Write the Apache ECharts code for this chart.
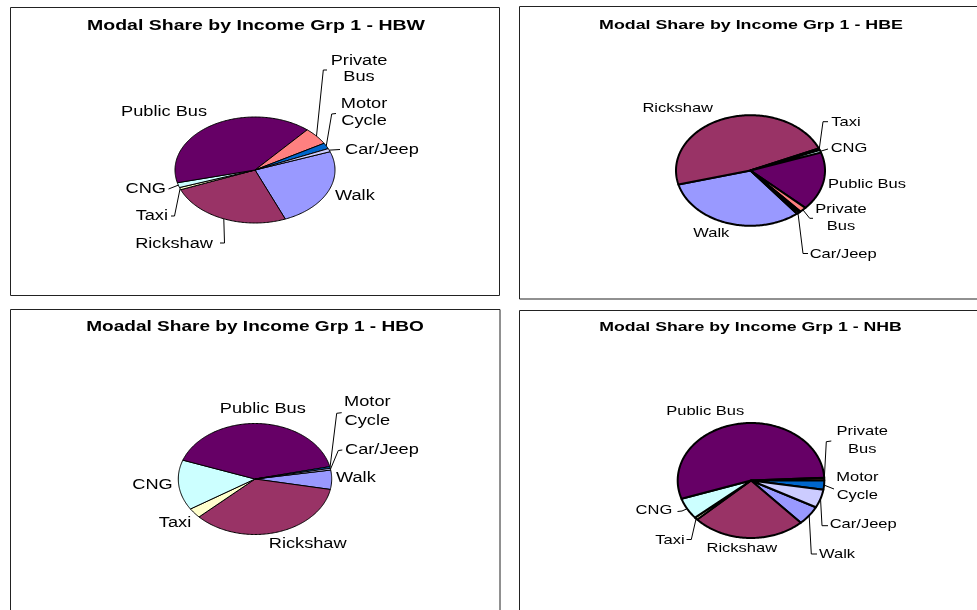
<!DOCTYPE html>
<html>
<head>
<meta charset="utf-8">
<script src="https://cdn.jsdelivr.net/npm/echarts@6/dist/echarts.min.js"></script>
<style>
  html, body { margin: 0; padding: 0; background: #fff; }
  #chart { width: 977px; height: 610px; }
</style>
</head>
<body>
<div id="chart"></div>
<script>
// Travel modes, in the order the slices run clockwise
const modes = ['Walk', 'Rickshaw', 'Taxi', 'CNG', 'Public Bus', 'Private Bus', 'Motor Cycle', 'Car/Jeep'];

// Modal share (%) of income group 1, one list per trip purpose
const shareHBW = [24.5, 25.2, 0.7, 1.5, 40.3, 5.3, 1.8, 1.0];
const shareHBE = [31.5, 47.3, 0.5, 0.8, 17.0, 1.5, 0.4, 0.5];
const shareHBO = [5.6, 35.0, 2.9, 14.6, 40.9, 0, 0.5, 0.5];
const shareNHB = [5.4, 24.9, 0.7, 6.0, 54.2, 0.7, 2.6, 5.1];

const chartTitles = [
  'Modal Share by Income Grp 1 - HBW',
  'Modal Share by Income Grp 1 - HBE',
  'Moadal Share by Income Grp 1 - HBO',
  'Modal Share by Income Grp 1 - NHB'
];

// Slice fill per mode
const modeColors = {
  'Walk': '#9999FF', 'Rickshaw': '#993366', 'Taxi': '#FFFFCC', 'CNG': '#CCFFFF',
  'Public Bus': '#660066', 'Private Bus': '#FF8080', 'Motor Cycle': '#0066CC', 'Car/Jeep': '#CCCCFF'
};

// Panel layout: frame, title, flattened pie and label placement
// leader: [elbowX, elbowY, endX, endY] - line runs from the slice rim via the elbow to the end
const panels = [
  {
    values: shareHBW, title: chartTitles[0],
    frame: [10.5, 7.5, 489, 288],
    titlePos: [256, 26], titleSize: 15, titleScale: 1.3,
    pie: { cx: 255, cy: 170, rx: 80, ry: 53, start: 69.8, lw: 1 },
    fontSize: 14, textScale: 1.3, lineH: 16.5,
    labels: {
      'Walk':        { x: 335, y: 196, align: 'left' },
      'Rickshaw':    { x: 213, y: 244, align: 'right', leader: [224.5, 243, 220, 243] },
      'Taxi':        { x: 168, y: 216, align: 'right', leader: [174.5, 216, 171, 216] },
      'CNG':         { x: 166, y: 189, align: 'right', leader: [168.5, 189, 168.5, 189] },
      'Public Bus':  { x: 164, y: 112, align: 'center' },
      'Private Bus': { x: 359, y: 69, align: 'center', text: 'Private\nBus', leader: [323.3, 70, 327, 70] },
      'Motor Cycle': { x: 364, y: 112.5, align: 'center', text: 'Motor\nCycle', leader: [331.7, 114, 336, 113.5] },
      'Car/Jeep':    { x: 345, y: 150, align: 'left', leader: [340, 149.5, 340, 149.5] }
    }
  },
  {
    values: shareHBE, title: chartTitles[1],
    frame: [519.5, 6.5, 470, 292.5],
    titlePos: [751, 25], titleSize: 13, titleScale: 1.37,
    pie: { cx: 750.5, cy: 170.5, rx: 74.5, ry: 55.3, start: 141.3, lw: 2 },
    fontSize: 13, textScale: 1.27, lineH: 17.5,
    labels: {
      'Rickshaw':    { x: 677.7, y: 108, align: 'center' },
      'Taxi':        { x: 831.3, y: 122, align: 'left', leader: [823, 121.7, 828, 121.7] },
      'CNG':         { x: 830.7, y: 148.5, align: 'left', leader: [828, 149, 828, 149] },
      'Public Bus':  { x: 828, y: 184, align: 'left' },
      'Private Bus': { x: 841, y: 218, align: 'center', text: 'Private\nBus', leader: [809.7, 218.3, 813, 218.3] },
      'Car/Jeep':    { x: 809.7, y: 254.3, align: 'left', leader: [803, 253.5, 808, 253.5] },
      'Walk':        { x: 711.3, y: 233.3, align: 'center' }
    }
  },
  {
    values: shareHBO, title: chartTitles[2],
    frame: [10.5, 309.5, 489.5, 320],
    titlePos: [255, 327], titleSize: 15, titleScale: 1.27,
    pie: { cx: 255, cy: 479, rx: 76.7, ry: 55.5, start: 80.7, lw: 1 },
    fontSize: 14, textScale: 1.3, lineH: 19,
    labels: {
      'Public Bus':  { x: 262.8, y: 409.3, align: 'center' },
      'Motor Cycle': { x: 367.3, y: 411.8, align: 'center', text: 'Motor\nCycle', leader: [336.7, 413.3, 341.7, 412.7] },
      'Car/Jeep':    { x: 345, y: 450.3, align: 'left', leader: [338.3, 450.5, 342.3, 450] },
      'Walk':        { x: 336, y: 478.3, align: 'left' },
      'Rickshaw':    { x: 307.7, y: 544, align: 'center' },
      'Taxi':        { x: 175, y: 523.3, align: 'center' },
      'CNG':         { x: 172.7, y: 485.3, align: 'right' }
    }
  },
  {
    values: shareNHB, title: chartTitles[3],
    frame: [519.5, 310.5, 470, 320],
    titlePos: [750.5, 327.5], titleSize: 13, titleScale: 1.36,
    pie: { cx: 751, cy: 480.5, rx: 73.3, ry: 57.5, start: 117.7, lw: 2 },
    fontSize: 13, textScale: 1.27, lineH: 18,
    labels: {
      'Public Bus':  { x: 705.2, y: 411.7, align: 'center' },
      'Private Bus': { x: 862.3, y: 440.5, align: 'center', text: 'Private\nBus', leader: [826.3, 441.7, 831.3, 441] },
      'Motor Cycle': { x: 857.3, y: 486.7, align: 'center', text: 'Motor\nCycle', leader: [834, 489, 834, 489] },
      'Car/Jeep':    { x: 829.7, y: 524.3, align: 'left', leader: [822, 525.7, 828, 525.7] },
      'Walk':        { x: 819, y: 554, align: 'left', leader: [811.3, 554, 817, 554] },
      'Rickshaw':    { x: 741.8, y: 548.3, align: 'center' },
      'Taxi':        { x: 684.7, y: 540.3, align: 'right', leader: [691.3, 539.5, 686.5, 539.5] },
      'CNG':         { x: 672.3, y: 510, align: 'right', leader: [682, 511, 677.5, 511.5] }
    }
  }
];

const FONT = '"Liberation Sans", Arial, sans-serif';

// Point on the flattened pie rim for an angle measured clockwise from 12 o'clock
function rim(p, deg) {
  const r = deg * Math.PI / 180;
  return [p.cx + p.rx * Math.sin(r), p.cy - p.ry * Math.cos(r)];
}

function makeSeries(panel, idx) {
  const vals = panel.values;
  const total = vals.reduce((a, b) => a + b, 0);
  const cum = [];
  let acc = 0;
  vals.forEach(v => { cum.push(acc); acc += v; });
  const p = panel.pie;

  return {
    type: 'custom',
    name: panel.title,
    coordinateSystem: 'none',
    silent: true,
    data: vals.map((v, i) => ({ name: modes[i], value: v })),
    renderItem: function (params, api) {
      const i = params.dataIndex;
      const v = api.value(0);
      if (!v) return { type: 'group', children: [] };
      const a0 = p.start + 360 * cum[i] / total;
      const a1 = a0 + 360 * v / total;
      const steps = Math.max(2, Math.ceil(a1 - a0));
      const pts = [[p.cx, p.cy]];
      for (let k = 0; k <= steps; k++) pts.push(rim(p, a0 + (a1 - a0) * k / steps));

      const children = [{
        type: 'polygon',
        shape: { points: pts },
        style: { fill: modeColors[modes[i]], stroke: '#000', lineWidth: p.lw, lineJoin: 'round' },
        z2: 1
      }];

      const lab = panel.labels[modes[i]];
      if (lab) {
        if (lab.leader) {
          const s = rim(p, (a0 + a1) / 2);
          children.push({
            type: 'polyline',
            shape: { points: [s, [lab.leader[0], lab.leader[1]], [lab.leader[2], lab.leader[3]]] },
            style: { stroke: '#000', lineWidth: 1, fill: null },
            z2: 2
          });
        }
        children.push({
          type: 'text',
          x: lab.x, y: lab.y,
          scaleX: panel.textScale, scaleY: 1,
          style: {
            text: lab.text || modes[i],
            fill: '#000',
            font: panel.fontSize + 'px ' + FONT,
            align: lab.align,
            verticalAlign: 'middle',
            lineHeight: panel.lineH
          },
          z2: 3
        });
      }
      return { type: 'group', children: children };
    }
  };
}

const graphics = [];
panels.forEach(panel => {
  const f = panel.frame;
  graphics.push({
    type: 'rect', silent: true,
    shape: { x: f[0], y: f[1], width: f[2], height: f[3] },
    style: { fill: '#fff', stroke: '#222', lineWidth: 1 },
    z: -10
  });
  graphics.push({
    type: 'text', silent: true,
    x: panel.titlePos[0], y: panel.titlePos[1],
    scaleX: panel.titleScale,
    style: {
      text: panel.title, fill: '#000',
      font: 'bold ' + panel.titleSize + 'px ' + FONT,
      align: 'center', verticalAlign: 'middle'
    },
    z: 10
  });
});

const chart = echarts.init(document.getElementById('chart'), null, { renderer: 'canvas' });
chart.setOption({
  backgroundColor: '#fff',
  animation: false,
  graphic: graphics,
  series: panels.map(makeSeries)
});
</script>
</body>
</html>
